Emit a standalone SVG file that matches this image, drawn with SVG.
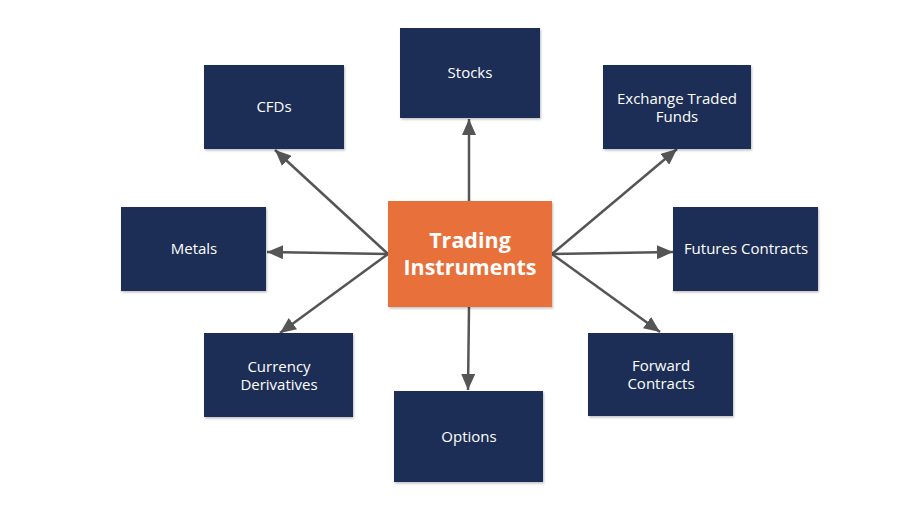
<svg xmlns="http://www.w3.org/2000/svg" width="911" height="511" viewBox="0 0 911 511">
<defs>
<marker id="ah" markerUnits="userSpaceOnUse" markerWidth="18" markerHeight="14" refX="16" refY="7" orient="auto">
<path d="M0,0 L16,7 L0,14 z" fill="#555"/>
</marker>
<filter id="sh" x="-10%" y="-10%" width="130%" height="130%">
<feDropShadow dx="1" dy="1.5" stdDeviation="1.2" flood-color="#000" flood-opacity="0.25"/>
</filter>
<style>
.n{fill:#1c2f57;filter:url(#sh)}
.t{fill:#fff;font-family:"Open Sans","Noto Sans",sans-serif;font-size:15px;text-anchor:middle}
.c{fill:#e8703a;filter:url(#sh)}
.ct{fill:#fff;font-family:"Open Sans","Noto Sans",sans-serif;font-size:21.5px;font-weight:bold;text-anchor:middle}
.l{stroke:#555;stroke-width:2.5;fill:none;marker-end:url(#ah)}
</style>
</defs>
<rect width="911" height="511" fill="#fff"/>
<g id="connectors">
<line class="l" x1="469" y1="201" x2="469" y2="119"/>
<line class="l" x1="388" y1="254" x2="275" y2="150"/>
<line class="l" x1="388" y1="254" x2="267" y2="252"/>
<line class="l" x1="388" y1="254" x2="280" y2="333"/>
<line class="l" x1="552" y1="254" x2="677" y2="149"/>
<line class="l" x1="552" y1="254" x2="673" y2="252"/>
<line class="l" x1="552" y1="254" x2="660" y2="332"/>
<line class="l" x1="469" y1="307" x2="468" y2="390"/>
</g>
<g id="center">
<rect class="c" x="388" y="201" width="164" height="106"/>
<text class="ct" x="470" y="248">Trading</text>
<text class="ct" x="470" y="275">Instruments</text>
</g>
<g id="stocks">
<rect class="n" x="400" y="28" width="140" height="90"/>
<text class="t" x="470" y="78">Stocks</text>
</g>
<g id="cfds">
<rect class="n" x="204" y="65" width="140" height="84"/>
<text class="t" x="274" y="112">CFDs</text>
</g>
<g id="etf">
<rect class="n" x="603" y="65" width="148" height="84"/>
<text class="t" x="677" y="104">Exchange Traded</text>
<text class="t" x="677" y="121.5">Funds</text>
</g>
<g id="metals">
<rect class="n" x="121" y="207" width="145" height="84"/>
<text class="t" x="194" y="254">Metals</text>
</g>
<g id="futures">
<rect class="n" x="673" y="207" width="145" height="84"/>
<text class="t" x="746" y="254">Futures Contracts</text>
</g>
<g id="currency">
<rect class="n" x="204" y="333" width="149" height="84"/>
<text class="t" x="279" y="372">Currency</text>
<text class="t" x="279" y="389.5">Derivatives</text>
</g>
<g id="forward">
<rect class="n" x="588" y="333" width="145" height="83"/>
<text class="t" x="661" y="371">Forward</text>
<text class="t" x="661" y="389">Contracts</text>
</g>
<g id="options">
<rect class="n" x="394" y="391" width="149" height="91"/>
<text class="t" x="469" y="442">Options</text>
</g>
</svg>
